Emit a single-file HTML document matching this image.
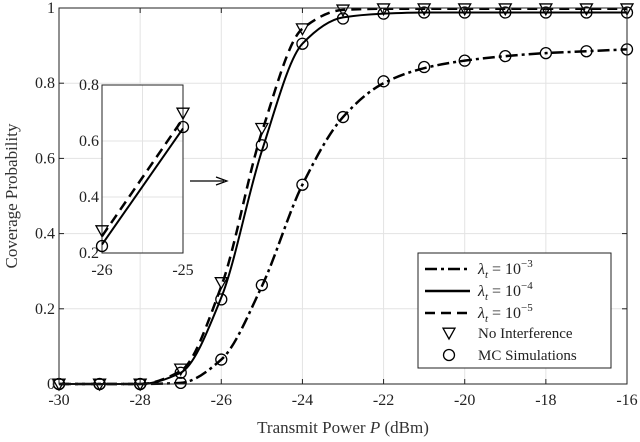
<!DOCTYPE html>
<html><head><meta charset="utf-8"><style>
body{margin:0;background:#fff}
svg{display:block;font-family:"Liberation Serif",serif}
</style></head><body>
<svg id="chart" width="640" height="442" viewBox="0 0 640 442">
</svg>
<script>
const xVals=[-30,-29,-28,-27,-26,-25,-24,-23,-22,-21,-20,-19,-18,-17,-16];
const lam3=[0,0,0,0.003,0.065,0.26,0.53,0.71,0.80,0.84,0.86,0.872,0.88,0.885,0.89];
const lam4=[0,0,0,0.03,0.23,0.62,0.905,0.975,0.985,0.988,0.988,0.988,0.988,0.988,0.988];
const lam5=[0,0,0,0.035,0.26,0.67,0.945,0.995,0.998,0.998,0.998,0.998,0.998,0.998,0.998];
const noInt=[0,0,0,0.04,0.27,0.68,0.945,0.995,0.998,0.998,0.998,0.998,0.998,0.998,0.998];
const mc3=[0,0,0,0.003,0.065,0.263,0.53,0.71,0.805,0.843,0.86,0.872,0.88,0.885,0.89];
const mc4=[0,0,0,0.03,0.225,0.635,0.905,0.972,0.985,0.988,0.988,0.988,0.988,0.988,0.988];
const xTicks=[-30,-28,-26,-24,-22,-20,-18,-16];
const yTicks=[0,0.2,0.4,0.6,0.8,1];
const insetX=[-26,-25];
const insetLam4=[0.23,0.645];
const insetLam5=[0.26,0.68];
const insetTri=[0.28,0.70];
const insetCirc=[0.225,0.65];
const insetYTicks=[0.2,0.4,0.6,0.8];

const NS="http://www.w3.org/2000/svg";
const svg=document.getElementById('chart');
const L=59,R=627,T=8,B=384;
const sx=v=>L+(v+30)/14*(R-L);
const sy=v=>B-v*(B-T);
const IL=102,IR=183,IT=85,IB=253;
const ix=v=>IL+(v+26)*(IR-IL);
const iy=v=>IB-(v-0.2)/0.6*(IB-IT);
function mk(tag,attrs,parent){const e=document.createElementNS(NS,tag);for(const k in attrs)e.setAttribute(k,attrs[k]);(parent||svg).appendChild(e);return e;}
function smooth(xs,ys,fx,fy){
  const n=xs.length;const d=[];const m=[];
  for(let i=0;i<n-1;i++)d.push((ys[i+1]-ys[i])/(xs[i+1]-xs[i]));
  for(let i=0;i<n;i++){
    if(i==0)m.push(d[0]);else if(i==n-1)m.push(d[n-2]);
    else m.push(d[i-1]*d[i]<=0?0:2/(1/d[i-1]+1/d[i]));
  }
  let p="M"+fx(xs[0])+","+fy(ys[0]);
  for(let i=0;i<n-1;i++){const h=xs[i+1]-xs[i];
    p+=" C"+fx(xs[i]+h/3)+","+fy(ys[i]+m[i]*h/3)+" "+fx(xs[i+1]-h/3)+","+fy(ys[i+1]-m[i+1]*h/3)+" "+fx(xs[i+1])+","+fy(ys[i+1]);}
  return p;
}
const grid=mk('g',{});


for(let x=-30;x<=-16;x++){if(x%2==0)mk('line',{x1:sx(x),x2:sx(x),y1:T,y2:B,stroke:'#e3e3e3','stroke-width':1},grid);}
yTicks.forEach(v=>mk('line',{x1:L,x2:R,y1:sy(v),y2:sy(v),stroke:'#e3e3e3','stroke-width':1},grid));
function series(vals,dash,w,name){const p=mk('path',{d:smooth(xVals,vals,sx,sy),fill:'none',stroke:'#000','stroke-width':w,'stroke-dasharray':dash});

}
series(lam3,'12,4,3,4',2.5,'line-lambda-1e-3');
series(lam4,'',2,'line-lambda-1e-4');
series(lam5,'10,6',2.5,'line-lambda-1e-5');
function tri(x,y,s,parent){return mk('path',{d:`M${x-s},${y-s*0.8} L${x+s},${y-s*0.8} L${x},${y+s} Z`,fill:'none',stroke:'#000','stroke-width':1.3},parent);}
xVals.forEach((x,i)=>{
  const t=tri(sx(x),sy(noInt[i]),6);
  
  
  [mc3,mc4].forEach(arr=>{const c=mk('circle',{cx:sx(x),cy:sy(arr[i]),r:5.5,fill:'none',stroke:'#000','stroke-width':1.3});
  
  });
});
const box=mk('rect',{x:L,y:T,width:R-L,height:B-T,fill:'none',stroke:'#222','stroke-width':1});


xTicks.forEach(v=>{mk('line',{x1:sx(v),x2:sx(v),y1:B,y2:B-5,stroke:'#222'});mk('line',{x1:sx(v),x2:sx(v),y1:T,y2:T+5,stroke:'#222'});
 const t=mk('text',{x:sx(v),y:B+21,'text-anchor':'middle','font-size':16,fill:'#222'});t.textContent=v;
 
 });
yTicks.forEach(v=>{mk('line',{x1:L,x2:L+5,y1:sy(v),y2:sy(v),stroke:'#222'});mk('line',{x1:R,x2:R-5,y1:sy(v),y2:sy(v),stroke:'#222'});
 const t=mk('text',{x:L-4,y:sy(v)+5,'text-anchor':'end','font-size':16,fill:'#222'});t.textContent=v;
 
 });
const xl=mk('text',{x:343,y:433,'text-anchor':'middle','font-size':17,fill:'#333'});xl.innerHTML='Transmit Power <tspan font-style="italic">P</tspan> (dBm)';


const yl=mk('text',{x:0,y:0,'text-anchor':'middle','font-size':17,fill:'#333',transform:'translate(17,196) rotate(-90)'});yl.textContent='Coverage Probability';


const ins=mk('g',{});


mk('rect',{x:IL,y:IT,width:IR-IL,height:IB-IT,fill:'#fff',stroke:'#222'},ins);
mk('line',{x1:(IL+IR)/2,x2:(IL+IR)/2,y1:IT,y2:IB,stroke:'#e3e3e3'},ins);
insetYTicks.forEach(v=>{mk('line',{x1:IL,x2:IR,y1:iy(v),y2:iy(v),stroke:'#e3e3e3'},ins);
 const t=mk('text',{x:IL-3,y:iy(v)+5,'text-anchor':'end','font-size':16,fill:'#222'},ins);t.textContent=v;
 
 });
insetX.forEach(v=>{const t=mk('text',{x:ix(v),y:IB+22,'text-anchor':'middle','font-size':16,fill:'#222'},ins);t.textContent=v;
 
 });
mk('rect',{x:IL,y:IT,width:IR-IL,height:IB-IT,fill:'none',stroke:'#222'},ins);
mk('line',{x1:ix(insetX[0]),y1:iy(insetLam5[0]),x2:ix(insetX[1]),y2:iy(insetLam5[1]),stroke:'#000','stroke-width':2.5,'stroke-dasharray':'10,6'},ins);
mk('line',{x1:ix(insetX[0]),y1:iy(insetLam4[0]),x2:ix(insetX[1]),y2:iy(insetLam4[1]),stroke:'#000','stroke-width':2},ins);
insetX.forEach((x,i)=>{tri(ix(x),iy(insetTri[i]),6,ins);mk('circle',{cx:ix(x),cy:iy(insetCirc[i]),r:5.5,fill:'none',stroke:'#000','stroke-width':1.3},ins);});
const ar=mk('g',{});


mk('line',{x1:190,y1:181,x2:224,y2:181,stroke:'#000','stroke-width':1.2},ar);
mk('path',{d:'M216,177 L227,181 L216,185',fill:'none',stroke:'#000','stroke-width':1.2},ar);
const lg=mk('g',{});


mk('rect',{x:418,y:253,width:193,height:115,fill:'#fff',stroke:'#222'},lg);
const items=[['12,4,3,4',2.5,'λ','−3'],['',2.5,'λ','−4'],['10,6',2.5,'λ','−5']];
items.forEach((it,i)=>{const y=269+i*22;
 mk('line',{x1:425,x2:470,y1:y,y2:y,stroke:'#000','stroke-width':it[1],'stroke-dasharray':it[0]},lg);
 const t=mk('text',{x:478,y:y+5,'font-size':16,fill:'#222'},lg);
 t.innerHTML=`<tspan font-style="italic">λ</tspan><tspan font-style="italic" font-size="11" dy="4">t</tspan><tspan dy="-4"> = 10</tspan><tspan font-size="11" dy="-7">${it[3]}</tspan>`;
 
 });
tri(449,333,6,lg);
mk('circle',{cx:449,cy:355,r:5.5,fill:'none',stroke:'#000','stroke-width':1.3},lg);
[['No Interference',338],['MC Simulations',360]].forEach(a=>{const t=mk('text',{x:478,y:a[1],'font-size':15,fill:'#222'},lg);t.textContent=a[0];
 
 });
</script>
</body></html>
